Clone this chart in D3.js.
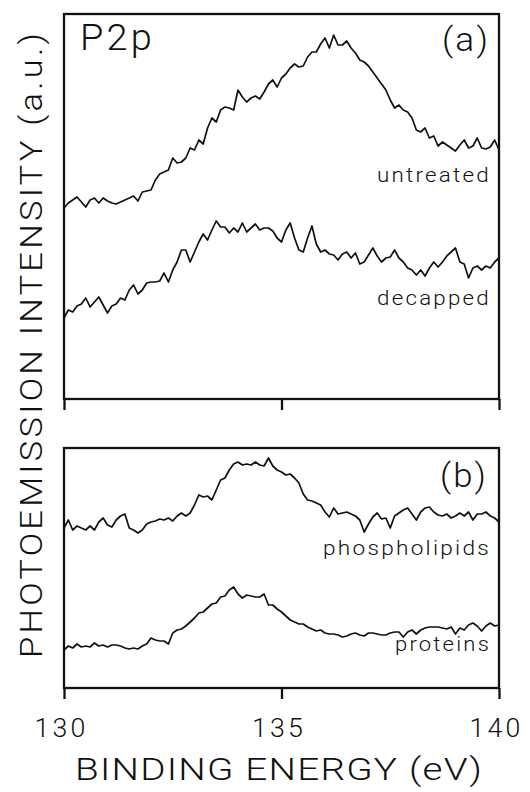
<!DOCTYPE html>
<html>
<head>
<meta charset="utf-8">
<script src="https://cdn.jsdelivr.net/npm/d3@7"></script>
<style>
  body { margin: 0; background: #fff; }
  text { font-family: Roboto, 'DejaVu Sans', sans-serif; font-weight: 300; fill: #111; }
</style>
</head>
<body>
<div id="main"></div>
<script>
// binding energy grid, 130 -> 140 eV in 0.1 eV steps
const eStart = 130, eStep = 0.1;

// intensities in arbitrary units
const untreated = [191,196,199,202,197,192,199,201,196,201,198,196,195,197,199,201,203,198,207,208,
    209,219,225,227,229,241,236,237,241,251,249,259,255,271,281,277,289,292,291,289,
    309,302,297,301,303,300,307,315,319,312,321,325,331,335,332,333,342,347,347,355,
    361,351,364,354,354,358,351,346,339,337,333,327,321,315,309,299,291,294,289,287,
    281,269,267,271,261,263,253,257,254,251,248,254,259,251,253,261,251,250,252,259,249];
const decapped = [81,89,87,93,95,101,92,97,102,94,86,93,95,101,99,109,114,105,109,116,
    117,117,118,126,117,129,137,149,149,137,147,157,165,159,169,178,172,172,166,171,
    167,176,167,171,175,169,171,171,168,161,157,169,176,161,149,147,161,173,155,147,
    149,145,144,139,145,147,141,146,135,137,144,151,143,137,141,142,149,141,137,131,
    129,124,129,123,131,137,132,137,143,147,151,137,135,121,131,133,129,133,131,137,141];
const phospholipids = [160,168,158,162,160,158,162,158,166,170,163,161,168,172,174,160,158,155,158,164,
    166,167,169,168,170,167,172,175,172,175,183,193,191,192,188,198,208,210,218,224,
    226,223,224,223,226,223,222,230,222,218,216,213,214,210,205,194,188,187,185,183,
    176,171,180,174,175,176,174,172,168,156,164,171,175,169,170,160,172,175,178,180,
    174,168,176,180,181,176,173,172,174,170,172,175,172,176,168,174,174,176,172,170,166];
const proteins = [38,42,40,44,41,42,41,45,42,43,41,43,43,42,40,39,40,39,42,44,
    50,48,47,47,44,55,58,59,62,66,70,75,76,80,84,85,91,92,98,101,
    94,90,93,92,91,91,94,83,83,79,76,72,68,66,64,64,61,59,57,58,
    55,54,54,53,51,52,54,55,53,52,55,55,54,53,53,55,56,56,51,56,
    58,54,58,60,61,61,61,60,59,61,54,60,58,63,65,62,57,62,65,62,63];

const xTicks = [130, 135, 140];

const width = 530, height = 792;
const svg = d3.select('#main').append('svg').attr('width', width).attr('height', height);

const xScale = d3.scaleLinear().domain([130, 140]).range([64, 499]);
const yA = d3.scaleLinear().domain([0, 385]).range([399, 14]);
const yB = d3.scaleLinear().domain([0, 240]).range([688, 448]);

function drawPanel(yScale, series, showLabels) {
    const g = svg.append('g');
    const [y0, y1] = yScale.range();

    g.append('rect')
        .attr('x', xScale(130))
        .attr('y', y1)
        .attr('width', xScale(140) - xScale(130))
        .attr('height', y0 - y1)
        .style('fill', 'none')
        .style('stroke', '#111')
        .style('stroke-width', 2.3);

    const axis = g.append('g')
        .attr('transform', `translate(0,${y0})`)
        .call(d3.axisBottom(xScale).tickValues(xTicks).tickSize(11).tickSizeOuter(0)
            .tickFormat(showLabels ? d3.format('d') : ''));
    axis.select('.domain').remove();
    axis.selectAll('line').style('stroke', '#111').style('stroke-width', 2.3);
    axis.selectAll('text')
        .attr('y', 49).attr('dy', 0)
        .attr('dx', -3)
        .attr('textLength', 54)
        .attr('lengthAdjust', 'spacingAndGlyphs')
        .style('font-family', "Roboto, 'DejaVu Sans', sans-serif")
        .style('font-weight', 300)
        .style('font-size', '25px')
        .style('letter-spacing', '3px')
        .style('fill', '#111');

    const line = d3.line()
        .x((d, i) => xScale(eStart + i * eStep))
        .y(d => yScale(d));

    series.forEach(s => {
        g.append('path')
            .datum(s.values)
            .attr('d', line)
            .style('fill', 'none')
            .style('stroke', '#111')
            .style('stroke-width', 1.7)
            .style('stroke-linejoin', 'round');

        g.append('text')
            .attr('x', 491)
            .attr('y', s.labelY)
            .attr('text-anchor', 'end')
            .attr('textLength', s.labelW)
            .attr('lengthAdjust', 'spacingAndGlyphs')
            .style('font-size', '20px')
            .style('letter-spacing', '2px')
            .text(s.name);
    });
    return g;
}

drawPanel(yA, [
    { name: 'untreated', values: untreated, labelY: 182, labelW: 114 },
    { name: 'decapped', values: decapped, labelY: 305, labelW: 114 }
], false);

drawPanel(yB, [
    { name: 'phospholipids', values: phospholipids, labelY: 555, labelW: 168 },
    { name: 'proteins', values: proteins, labelY: 651, labelW: 96 }
], true);

svg.append('text')
    .attr('x', 80).attr('y', 50)
    .attr('textLength', 75)
    .attr('lengthAdjust', 'spacingAndGlyphs')
    .style('font-size', '36px')
    .style('letter-spacing', '3px')
    .text('P2p');

svg.append('text')
    .attr('x', 442).attr('y', 51)
    .attr('textLength', 48)
    .attr('lengthAdjust', 'spacingAndGlyphs')
    .style('font-size', '33px')
    .style('letter-spacing', '2px')
    .text('(a)');

svg.append('text')
    .attr('x', 440).attr('y', 487)
    .attr('textLength', 48)
    .attr('lengthAdjust', 'spacingAndGlyphs')
    .style('font-size', '33px')
    .style('letter-spacing', '2px')
    .text('(b)');

svg.append('text')
    .attr('x', 75).attr('y', 780)
    .attr('textLength', 408)
    .attr('lengthAdjust', 'spacingAndGlyphs')
    .style('font-size', '31px')
    .style('letter-spacing', '1px')
    .text('BINDING ENERGY (eV)');

svg.append('text')
    .attr('transform', 'translate(42,658) rotate(-90)')
    .attr('textLength', 628)
    .attr('lengthAdjust', 'spacingAndGlyphs')
    .style('font-size', '32px')
    .style('letter-spacing', '3px')
    .text('PHOTOEMISSION INTENSITY (a.u.)');
</script>
</body>
</html>
